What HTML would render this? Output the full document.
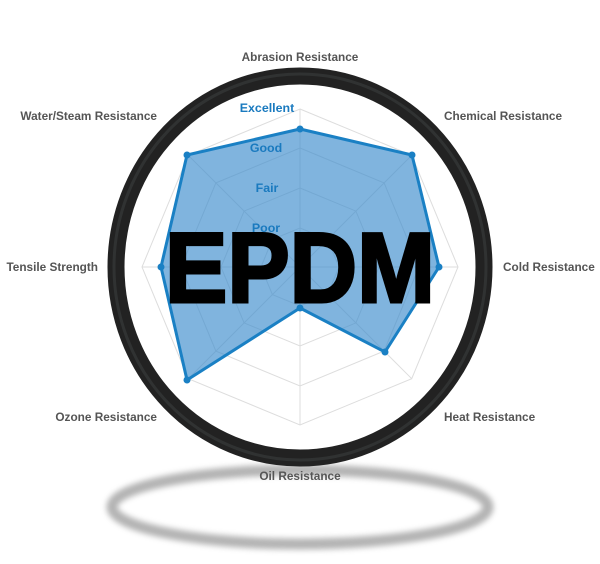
<!DOCTYPE html>
<html><head><style>
html,body{margin:0;padding:0;background:#fff;}
svg{display:block;}
.l{font-family:"Liberation Sans",sans-serif;font-size:11.8px;font-weight:bold;fill:#555;}
.v{font-family:"Liberation Sans",sans-serif;font-size:12.4px;font-weight:bold;fill:#1a7abf;}
</style></head><body>
<svg width="600" height="564" viewBox="0 0 600 564" xmlns="http://www.w3.org/2000/svg">
<defs>
<filter id="b" x="-20%" y="-50%" width="140%" height="200%"><feGaussianBlur stdDeviation="3"/></filter>
</defs>
<!-- shadow -->
<ellipse cx="300" cy="507" rx="188" ry="37" fill="none" stroke="#9a9a9a" stroke-width="11" opacity="0.75" filter="url(#b)"/>
<!-- ring -->
<ellipse cx="300" cy="267" rx="184" ry="191" fill="none" stroke="#222" stroke-width="17"/>
<ellipse cx="300" cy="267" rx="186" ry="193" fill="none" stroke="#3a3d3d" stroke-width="3" opacity="0.6"/>
<!-- grid -->
<g fill="none" stroke="#ddd" stroke-width="1">
<polygon points="300,109 411.7,155.3 458,267 411.7,378.7 300,425 188.3,378.7 142,267 188.3,155.3"/>
<polygon points="300,148 384.1,182.9 419,267 384.1,351.1 300,386 215.9,351.1 181,267 215.9,182.9"/>
<polygon points="300,188 355.9,211.1 379,267 355.9,322.9 300,346 244.1,322.9 221,267 244.1,211.1"/>
<polygon points="300,228 327.6,239.4 339,267 327.6,294.6 300,306 272.4,294.6 261,267 272.4,239.4"/>
<line x1="300" y1="267" x2="300" y2="109"/><line x1="300" y1="267" x2="411.7" y2="155.3"/>
<line x1="300" y1="267" x2="458" y2="267"/><line x1="300" y1="267" x2="411.7" y2="378.7"/>
<line x1="300" y1="267" x2="300" y2="425"/><line x1="300" y1="267" x2="188.3" y2="378.7"/>
<line x1="300" y1="267" x2="142" y2="267"/><line x1="300" y1="267" x2="188.3" y2="155.3"/>
</g>
<!-- data -->
<polygon points="300,129 412,155 439,267 385,352 300,308 187,380 161,267 187,155" fill="rgba(60,140,205,0.65)" stroke="#1a80c4" stroke-width="3" stroke-linejoin="round"/>
<g fill="#1a80c4">
<circle cx="300" cy="129" r="3.5"/><circle cx="412" cy="155" r="3.5"/><circle cx="439" cy="267" r="3.5"/><circle cx="385" cy="352" r="3.5"/>
<circle cx="300" cy="308" r="3.5"/><circle cx="187" cy="380" r="3.5"/><circle cx="161" cy="267" r="3.5"/><circle cx="187" cy="155" r="3.5"/>
</g>
<!-- level labels -->
<text class="v" x="267" y="112" text-anchor="middle">Excellent</text>
<text class="v" x="266" y="152" text-anchor="middle">Good</text>
<text class="v" x="267" y="192" text-anchor="middle">Fair</text>
<text class="v" x="266" y="232" text-anchor="middle">Poor</text>
<!-- axis labels -->
<text class="l" x="300" y="61" text-anchor="middle">Abrasion Resistance</text>
<text class="l" x="444" y="120">Chemical Resistance</text>
<text class="l" x="503" y="271">Cold Resistance</text>
<text class="l" x="444" y="421">Heat Resistance</text>
<text class="l" x="300" y="480" text-anchor="middle">Oil Resistance</text>
<text class="l" x="157" y="421" text-anchor="end">Ozone Resistance</text>
<text class="l" x="98" y="271" text-anchor="end">Tensile Strength</text>
<text class="l" x="157" y="120" text-anchor="end">Water/Steam Resistance</text>
<!-- EPDM -->
<text x="300" y="302" text-anchor="middle" font-family="Liberation Sans, sans-serif" font-weight="bold" font-size="99" fill="#000" stroke="#000" stroke-width="3" stroke-linejoin="miter" textLength="270" lengthAdjust="spacingAndGlyphs">EPDM</text>
</svg>
</body></html>
